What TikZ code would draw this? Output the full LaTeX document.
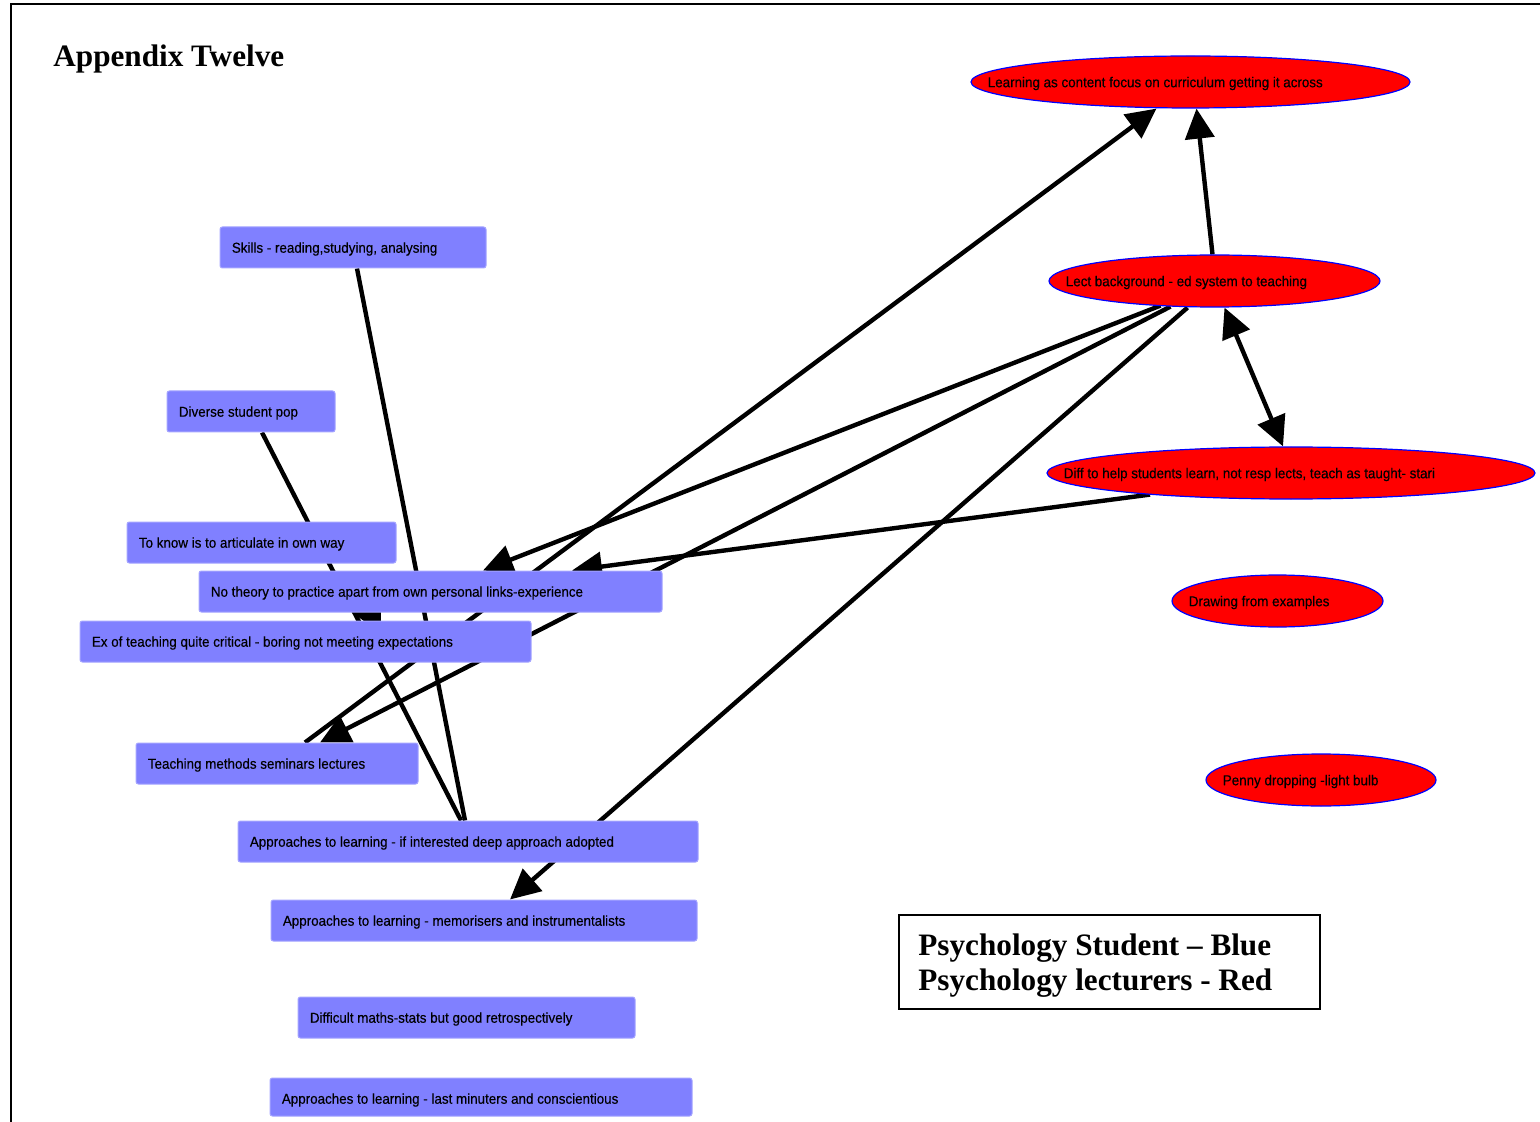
\documentclass[tikz,border=0pt]{standalone}
\usepackage{fontspec}
\setmainfont{Liberation Serif}
\newfontfamily\lblfont[FakeStretch=0.93,FakeBold=0.3]{Liberation Sans}
\usetikzlibrary{shapes.geometric,arrows.meta,calc,backgrounds}

\definecolor{boxblue}{HTML}{8080FF}
\definecolor{boxedge}{HTML}{A4A4FF}
\definecolor{lecred}{HTML}{FF0000}
\definecolor{lecedge}{HTML}{0000FF}

\tikzset{
  stubox/.style={rectangle, rounded corners=1.2pt, fill=boxblue, draw=boxedge,
    line width=0.5pt, minimum height=20.5pt, inner sep=0pt},
  lecell/.style={ellipse, fill=lecred, draw=lecedge, line width=0.6pt,
    minimum height=26pt, inner sep=0pt},
  lbl/.style={inner sep=0pt, font=\lblfont\fontsize{7.2pt}{8.5pt}\selectfont},
  headline/.style={inner sep=0pt, font=\fontsize{15.6pt}{18pt}\selectfont\bfseries},
  link/.style={line width=2.2pt, black},
  tip/.style={link, -{Triangle[length=15pt,width=14.5pt]}},
  bitip/.style={link, {Triangle[length=15pt,width=14.5pt]}-{Triangle[length=15pt,width=14.5pt]}}
}

% student box: name, centre x, centre y, width (px), text
\newcommand{\stuboxat}[5]{%
  \node[stubox, minimum width=#4*0.5pt] (#1) at (#2,#3) {};
  \node[lbl, anchor=west] (#1-t) at ($(#1.west)+(12,1.5)$) {#5};
}
% lecturer ellipse: name, centre x, centre y, width (px), text
\newcommand{\lecat}[5]{%
  \node[lecell, minimum width=#4*0.5pt] (#1) at (#2,#3) {};
  \node[lbl, anchor=west] (#1-t) at ($(#1.west)+(17,1.5)$) {#5};
}

\begin{document}
\begin{tikzpicture}[x=0.5pt, y=-0.5pt]
\useasboundingbox (0,0) rectangle (1540,1122);

% page frame
\draw[line width=1pt] (1540,4) -- (11,4) -- (11,1122);

\node[headline, anchor=base west] (title) at (53,67) {Appendix Twelve};

% psychology students
\stuboxat{skills}{353}{247.5}{266}{Skills - reading,studying, analysing}
\stuboxat{diverse}{251}{411.5}{168}{Diverse student pop}
\stuboxat{toknow}{261.5}{542.5}{269}{To know is to articulate in own way}
\stuboxat{notheory}{430.5}{591.5}{463}{No theory to practice apart from own personal links-experience}
\stuboxat{exteach}{305.5}{641.5}{451}{Ex of teaching quite critical - boring not meeting expectations}
\stuboxat{teach}{277}{763.5}{282}{Teaching methods seminars lectures}
\stuboxat{deep}{468}{841.5}{460}{Approaches to learning - if interested deep approach adopted}
\stuboxat{memo}{484}{920.5}{426}{Approaches to learning - memorisers and instrumentalists}
\stuboxat{maths}{466.5}{1017.5}{337}{Difficult maths-stats but good retrospectively}
\node[stubox, minimum width=422*0.5pt, minimum height=38*0.5pt] (lastmin) at (481,1097) {};
\node[lbl, anchor=west] (lastmin-t) at ($(lastmin.west)+(12,3)$) {Approaches to learning - last minuters and conscientious};

% psychology lecturers
\lecat{learn}{1190.5}{82}{439}{Learning as content focus on curriculum getting it across}
\lecat{lect}{1214.5}{281}{331}{Lect background - ed system to teaching}
\lecat{diff}{1291}{473}{488}{Diff to help students learn, not resp lects, teach as taught- stari}
\lecat{drawing}{1277.5}{601}{211}{Drawing from examples}
\lecat{penny}{1321}{780}{230}{Penny dropping -light bulb}

% legend
\node[draw, line width=1pt, minimum width=421*0.5pt, minimum height=94*0.5pt, inner sep=0pt]
  (legend) at (1109.5,962) {};
\node[headline, anchor=base west] (legend-a) at (918,955) {Psychology Student -- Blue};
\node[headline, anchor=base west] (legend-b) at (918,990) {Psychology lecturers - Red};

% links, kept behind the boxes
\begin{scope}[on background layer]
  \draw[link] ($(skills.south)+(4,0)$) -- ($(deep.north)+(-3,0)$);
  \draw[link] ($(diverse.south)+(11,0)$) -- ($(deep.north)+(-7,0)$);
  \draw[tip]  ($(notheory.south)+(-69.5,-18)$) -- ($(exteach.north)+(75.5,13)$);
  \draw[tip]  ($(teach.north)+(28,0)$) -- ($(learn.south)+(-34,0)$);
  \draw[tip]  ($(lect.north)+(-2,0)$) -- ($(learn.south)+(6,0)$);
  \draw[bitip] ($(lect.south)+(10,0)$) -- ($(diff.north)+(-8,0)$);
  \draw[tip]  ($(lect.south)+(-54,-2)$) -- ($(notheory.north)+(52.5,0)$);
  \draw[tip]  ($(lect.south)+(-44,-1)$) -- ($(teach.north)+(43,0)$);
  \draw[tip]  ($(lect.south)+(-27,0)$) -- ($(memo.north)+(26,0)$);
  \draw[tip]  ($(diff.south)+(-141,-5)$) -- ($(notheory.north)+(141.5,0)$);
\end{scope}
\end{tikzpicture}
\end{document}
